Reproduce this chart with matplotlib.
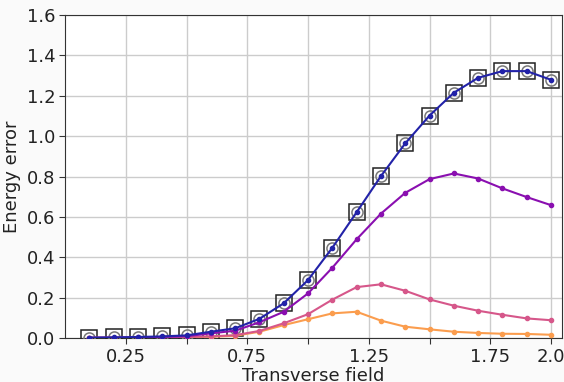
import matplotlib
matplotlib.use("Agg")
import matplotlib.pyplot as plt
import numpy as np

field = [0.1, 0.2, 0.3, 0.4, 0.5, 0.6, 0.7, 0.8, 0.9, 1.0,
         1.1, 1.2, 1.3, 1.4, 1.5, 1.6, 1.7, 1.8, 1.9, 2.0]

err_exact = [0.002, 0.003, 0.005, 0.008, 0.013, 0.031, 0.048, 0.095, 0.172, 0.287,
             0.447, 0.623, 0.802, 0.964, 1.102, 1.215, 1.289, 1.322, 1.322, 1.279]
err_purple = [0.001, 0.002, 0.003, 0.005, 0.009, 0.023, 0.036, 0.078, 0.130, 0.221,
              0.348, 0.489, 0.616, 0.719, 0.787, 0.815, 0.790, 0.741, 0.698, 0.658]
err_pink = [0.001, 0.001, 0.002, 0.003, 0.005, 0.008, 0.014, 0.035, 0.073, 0.118,
            0.190, 0.252, 0.266, 0.234, 0.191, 0.160, 0.135, 0.115, 0.097, 0.088]
err_orange = [0.001, 0.001, 0.002, 0.003, 0.004, 0.006, 0.011, 0.031, 0.064, 0.093,
              0.122, 0.130, 0.086, 0.056, 0.043, 0.031, 0.025, 0.021, 0.020, 0.016]

xticks = [0.25, 0.5, 0.75, 1.0, 1.25, 1.5, 1.75, 2.0]
xticklabels = ["0.25", "", "0.75", "", "1.25", "", "1.75", "2.0"]
yticks = [0.0, 0.2, 0.4, 0.6, 0.8, 1.0, 1.2, 1.4, 1.6]

c_navy = "#2222a8"
c_purple = "#8a0fb0"
c_pink = "#d6578a"
c_orange = "#fb9d4e"

fig = plt.figure(figsize=(5.64, 3.82), dpi=100, facecolor="#fafafa")
ax = fig.add_axes([65/564, 1 - 338/382, (562-65)/564, (338-15)/382])
ax.set_facecolor("white")

ax.plot(field, err_exact, linestyle="none", marker="s", markersize=11,
        markerfacecolor="none", markeredgecolor="#222222", markeredgewidth=1.1, zorder=3)
ax.plot(field, err_exact, linestyle="none", marker="o", markersize=8,
        markerfacecolor="none", markeredgecolor="#777777", markeredgewidth=1.1, zorder=3)
ax.plot(field, err_orange, color=c_orange, lw=1.5, marker="o", markersize=3, zorder=4)
ax.plot(field, err_pink, color=c_pink, lw=1.5, marker="o", markersize=3, zorder=4)
ax.plot(field, err_purple, color=c_purple, lw=1.5, marker="o", markersize=3, zorder=4)
ax.plot(field, err_exact, color=c_navy, lw=1.5, marker="o", markersize=3, zorder=5)

ax.set_xlim(0.0, 2.045)
ax.set_ylim(0.0, 1.6)
ax.set_xticks(xticks)
ax.set_xticklabels(xticklabels)
ax.set_yticks(yticks)
ax.set_yticklabels([f"{v:.1f}" for v in yticks])
ax.tick_params(labelsize=13, length=4, color="#333333", labelcolor="#222222", pad=3)
ax.grid(True, color="#cccccc", lw=1.0)
ax.set_axisbelow(True)
for s in ax.spines.values():
    s.set_color("#333333")
ax.set_xlabel("Transverse field", fontsize=13, color="#222222", labelpad=1)
ax.set_ylabel("Energy error", fontsize=13, color="#222222", labelpad=4)

fig.savefig("out.png", dpi=100, facecolor=fig.get_facecolor())
